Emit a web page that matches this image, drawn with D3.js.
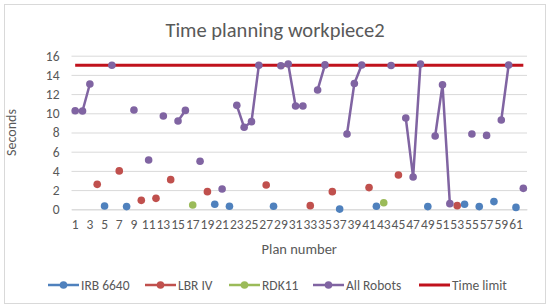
<!DOCTYPE html>
<html>
<head>
<meta charset="utf-8">
<script src="https://cdn.jsdelivr.net/npm/d3@7/dist/d3.min.js"></script>
<style>
  html, body { margin: 0; padding: 0; background: #fff; }
  svg { display: block; font-family: Carlito, Calibri, "Liberation Sans", Arial, sans-serif; }
</style>
</head>
<body>
<svg id="chart" width="550" height="308"></svg>
<script>
const categories = [1,2,3,4,5,6,7,8,9,10,11,12,13,14,15,16,17,18,19,20,
  21,22,23,24,25,26,27,28,29,30,31,32,33,34,35,36,37,38,39,40,
  41,42,43,44,45,46,47,48,49,50,51,52,53,54,55,56,57,58,59,60,61,62];
const tickLabels = [1,3,5,7,9,11,13,15,17,19,21,23,25,27,29,31,33,35,37,39,41,43,45,47,49,51,53,55,57,59,61];
const yTicks = [0,2,4,6,8,10,12,14,16];

const irb6640 = [
  null,null,null,null,0.35,null,null,0.28,null,null,
  null,null,null,null,null,null,null,null,null,0.52,
  null,0.31,null,null,null,null,null,0.31,null,null,
  null,null,null,null,null,null,0.02,null,null,null,
  null,0.31,null,null,null,null,null,null,0.28,null,
  null,null,null,0.52,null,0.28,null,0.8,null,null,
  0.2,null];
const lbrIV = [
  null,null,null,2.6,null,null,4.0,null,null,0.93,
  null,1.14,null,3.09,null,null,null,null,1.84,null,
  null,null,null,null,null,null,2.53,null,null,null,
  null,null,0.38,null,null,1.84,null,null,null,null,
  2.26,null,null,null,3.57,null,null,null,null,null,
  null,null,0.38,null,null,null,null,null,null,null,
  null,null];
const rdk11 = [
  null,null,null,null,null,null,null,null,null,null,
  null,null,null,null,null,null,0.45,null,null,null,
  null,null,null,null,null,null,null,null,null,null,
  null,null,null,null,null,null,null,null,null,null,
  null,null,0.69,null,null,null,null,null,null,null,
  null,null,null,null,null,null,null,null,null,null,
  null,null];
const allRobots = [
  10.27,10.24,13.05,null,null,15,null,null,10.34,null,
  5.13,null,9.72,null,9.2,10.3,null,5.0,null,null,
  2.11,null,10.83,8.54,9.13,15,null,null,14.96,15.14,
  10.76,10.76,null,12.43,15.04,null,null,7.84,13.1,15.03,
  null,null,null,14.98,null,9.51,3.36,15.14,null,7.64,
  12.98,0.59,null,null,7.84,null,7.7,null,9.3,15.03,
  null,2.18];
const timeLimit = [
  15,15,15,15,15,15,15,15,15,15,15,15,15,15,15,15,15,15,15,15,
  15,15,15,15,15,15,15,15,15,15,15,15,15,15,15,15,15,15,15,15,
  15,15,15,15,15,15,15,15,15,15,15,15,15,15,15,15,15,15,15,15,
  15,15];

const seriesList = [
  { name: "IRB 6640", values: irb6640, color: "#4F81BD", marker: true },
  { name: "LBR IV", values: lbrIV, color: "#C0504D", marker: true },
  { name: "RDK11", values: rdk11, color: "#9BBB59", marker: true },
  { name: "All Robots", values: allRobots, color: "#8064A2", marker: true },
  { name: "Time limit", values: timeLimit, color: "#C0121C", marker: false }
];

(function () {
const svg = d3.select("#chart");
const textColor = "#595959";
const fontFam = "Carlito, Calibri, 'Liberation Sans', Arial, sans-serif";

svg.append("rect").attr("x", 4.5).attr("y", 4.5).attr("width", 541).attr("height", 299)
  .attr("fill", "#fff").attr("stroke", "#D9D9D9").attr("stroke-width", 1);

const pLeft = 71.5, pRight = 527, pTop = 55.7, pBottom = 209.3;
const x = d3.scaleBand().domain(categories).range([pLeft, pRight]).padding(0);
const cx = d => x(d) + x.bandwidth() / 2;
const y = d3.scaleLinear().domain([0, 16]).range([pBottom, pTop]);

const yAxis = d3.axisLeft(y).tickValues(yTicks).tickSize(-(pRight - pLeft)).tickPadding(12);
const gy = svg.append("g").attr("transform", `translate(${pLeft},0)`).call(yAxis);
gy.select(".domain").remove();
gy.selectAll(".tick line").attr("stroke", "#D9D9D9").attr("stroke-width", 1);
gy.selectAll(".tick text").attr("fill", textColor).attr("font-size", 13.5).attr("font-family", fontFam);

const xAxis = d3.axisBottom(x).tickValues(tickLabels).tickSize(0).tickPadding(10);
const gx = svg.append("g").attr("transform", `translate(0,${pBottom})`).call(xAxis);
gx.select(".domain").attr("stroke", "#D9D9D9");
gx.selectAll(".tick text").attr("fill", textColor).attr("font-size", 13.5).attr("font-family", fontFam);

const line = d3.line().defined(d => d.v !== null).x(d => cx(d.c)).y(d => y(d.v));

const order = [4, 0, 1, 2, 3];
order.forEach(i => {
  const s = seriesList[i];
  const pts = categories.map((c, j) => ({ c, v: s.values[j] }));
  svg.append("path").datum(pts).attr("d", line).attr("fill", "none")
    .attr("stroke", s.color).attr("stroke-width", s.marker ? 2.5 : 3)
    .attr("stroke-linejoin", "round");
  if (s.marker) {
    svg.append("g").selectAll("circle").data(pts.filter(d => d.v !== null)).join("circle")
      .attr("cx", d => cx(d.c)).attr("cy", d => y(d.v)).attr("r", 3.8)
      .attr("fill", s.color);
  }
});

svg.append("text").attr("x", 275).attr("y", 37).attr("text-anchor", "middle")
  .attr("font-size", 20.5).attr("fill", textColor).text("Time planning workpiece2");

svg.append("text").attr("transform", `translate(16,${(pTop + pBottom) / 2}) rotate(-90)`)
  .attr("text-anchor", "middle").attr("font-size", 14).attr("fill", textColor).text("Seconds");
svg.append("text").attr("x", (pLeft + pRight) / 2).attr("y", 254).attr("text-anchor", "middle")
  .attr("font-size", 14.5).attr("fill", textColor).text("Plan number");

const legendX = [48, 145, 229, 313, 419];
seriesList.forEach((s, i) => {
  const g = svg.append("g").attr("transform", `translate(${legendX[i]},285)`);
  g.append("line").attr("x1", 0).attr("x2", 31).attr("y1", 0).attr("y2", 0)
    .attr("stroke", s.color).attr("stroke-width", s.marker ? 2.5 : 3);
  if (s.marker) g.append("circle").attr("cx", 15.5).attr("cy", 0).attr("r", 3.8).attr("fill", s.color);
  g.append("text").attr("x", 33).attr("y", 4.5).attr("font-size", 13.5).attr("fill", textColor).text(s.name);
});
})();
</script>
</body>
</html>
